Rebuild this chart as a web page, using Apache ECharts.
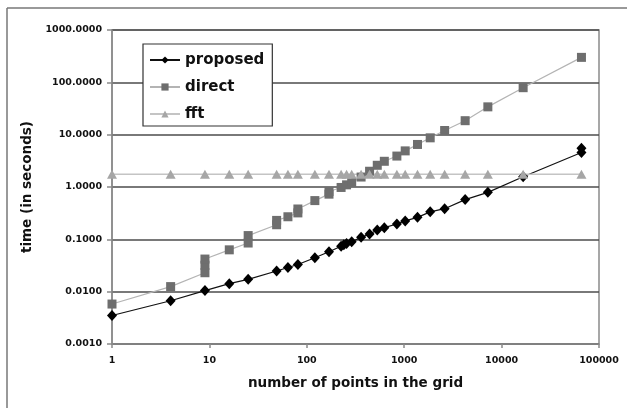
<!DOCTYPE html>
<html>
<head>
<meta charset="utf-8">
<script src="https://cdn.jsdelivr.net/npm/echarts@6/dist/echarts.min.js"></script>
<style>
html,body{margin:0;padding:0;background:#fff;}
#chart{width:627px;height:408px;}
</style>
</head>
<body>
<div id="chart"></div>
<script>
const proposedX = [1, 4, 9, 16, 25, 49, 64, 81, 121, 169, 225, 240, 256, 289, 361, 441, 529, 625, 841, 1024, 1369, 1849, 2601, 4225, 7225, 16641, 66049, 66049];
const proposedY = [0.0035, 0.0067, 0.0105, 0.0142, 0.0172, 0.0248, 0.029, 0.033, 0.0445, 0.058, 0.074, 0.079, 0.083, 0.09, 0.109, 0.126, 0.151, 0.167, 0.196, 0.225, 0.263, 0.335, 0.385, 0.575, 0.79, 1.57, 4.55, 5.5];

const directX = [1, 4, 9, 9, 9, 16, 25, 25, 49, 49, 64, 81, 81, 121, 169, 169, 225, 256, 289, 361, 441, 529, 625, 841, 1024, 1369, 1849, 2601, 4225, 7225, 16641, 66049];
const directY = [0.0058, 0.0125, 0.023, 0.032, 0.042, 0.063, 0.085, 0.118, 0.19, 0.23, 0.27, 0.32, 0.38, 0.55, 0.73, 0.82, 0.98, 1.1, 1.22, 1.55, 2.0, 2.6, 3.1, 3.9, 4.9, 6.5, 8.7, 12, 18.5, 34, 79, 300];

const fftX = [1, 4, 9, 16, 25, 49, 64, 81, 121, 169, 225, 256, 289, 361, 441, 529, 625, 841, 1024, 1369, 1849, 2601, 4225, 7225, 16641, 66049];
const fftY = [1.75, 1.75, 1.75, 1.75, 1.75, 1.75, 1.75, 1.75, 1.75, 1.75, 1.75, 1.75, 1.75, 1.75, 1.75, 1.75, 1.75, 1.75, 1.75, 1.75, 1.75, 1.75, 1.75, 1.75, 1.75, 1.75];

const seriesNames = ['proposed', 'direct', 'fft'];
const xTitle = 'number of points in the grid';
const yTitle = 'time (in seconds)';

function pairs(xs, ys) { return xs.map((x, i) => [x, ys[i]]); }

const FONT = 'DejaVu Sans';
const chart = echarts.init(document.getElementById('chart'), null, {renderer: 'canvas'});
chart.setOption({
  animation: false,
  backgroundColor: '#fff',
  grid: {left: 112, right: 28, top: 30, bottom: 64, show: true, borderColor: '#8a8a8a', borderWidth: 1.5, backgroundColor: 'transparent'},
  legend: {
    orient: 'vertical', left: 143, top: 44,
    backgroundColor: '#fff', borderColor: '#333', borderWidth: 1.2,
    padding: [7, 8, 3, 6], itemGap: 9, itemWidth: 30, itemHeight: 9,
    textStyle: {fontFamily: FONT, fontWeight: 'bold', fontSize: 15, lineHeight: 18, color: '#111'},
    data: seriesNames
  },
  xAxis: {
    type: 'log', logBase: 10, min: 1, max: 100000, splitNumber: 5,
    name: xTitle, nameLocation: 'middle', nameGap: 32,
    nameTextStyle: {fontFamily: FONT, fontWeight: 'bold', fontSize: 13.5, color: '#111'},
    axisLine: {lineStyle: {color: '#8a8a8a', width: 1.5}},
    axisTick: {show: true, inside: false, length: 4, lineStyle: {color: '#8a8a8a', width: 1.5}},
    minorTick: {show: false},
    splitLine: {show: false},
    axisLabel: {margin: 12, fontFamily: FONT, fontWeight: 'bold', fontSize: 9.5, color: '#111',
      formatter: v => String(Math.round(v))}
  },
  yAxis: {
    type: 'log', logBase: 10, min: 0.001, max: 1000, splitNumber: 6,
    name: yTitle, nameLocation: 'middle', nameGap: 73, nameRotate: 90,
    nameTextStyle: {fontFamily: FONT, fontWeight: 'bold', fontSize: 13.5, color: '#111'},
    axisLine: {lineStyle: {color: '#8a8a8a', width: 1.5}},
    axisTick: {show: true, inside: false, length: 5, lineStyle: {color: '#8a8a8a', width: 1.5}},
    minorTick: {show: false},
    splitLine: {show: true, lineStyle: {color: '#4d4d4d', width: 1.5}},
    axisLabel: {margin: 10, fontFamily: FONT, fontWeight: 'bold', fontSize: 9.5, color: '#111',
      formatter: v => Number(v).toFixed(4)}
  },
  graphic: [
    {type: 'line', shape: {x1: 7, y1: 8, x2: 627, y2: 8}, style: {stroke: '#777', lineWidth: 1.5}, silent: true},
    {type: 'line', shape: {x1: 7, y1: 8, x2: 7, y2: 408}, style: {stroke: '#777', lineWidth: 1.5}, silent: true}
  ],
  series: [
    {name: seriesNames[0], type: 'line', data: pairs(proposedX, proposedY),
      symbol: 'diamond', symbolSize: [10, 11], showAllSymbol: true,
      itemStyle: {color: '#000'}, lineStyle: {color: '#111', width: 1.2}},
    {name: seriesNames[1], type: 'line', data: pairs(directX, directY),
      symbol: 'rect', symbolSize: 9, showAllSymbol: true,
      itemStyle: {color: '#6e6e6e'}, lineStyle: {color: '#b4b4b4', width: 1.2}},
    {name: seriesNames[2], type: 'line', data: pairs(fftX, fftY),
      symbol: 'triangle', symbolSize: [10, 9], showAllSymbol: true,
      itemStyle: {color: '#a6a6a6'}, lineStyle: {color: '#c4c4c4', width: 1.5}}
  ]
});
</script>
</body>
</html>
